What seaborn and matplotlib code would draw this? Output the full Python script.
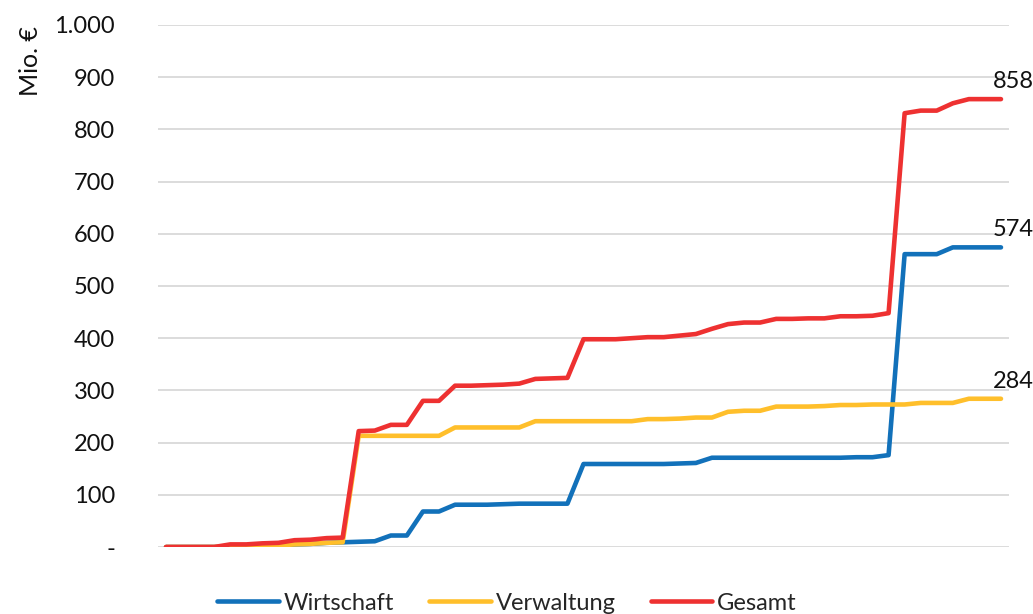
import numpy as np
import pandas as pd
import matplotlib
matplotlib.use("Agg")
import matplotlib.pyplot as plt
import seaborn as sns
from matplotlib.ticker import FixedLocator, FuncFormatter

# values (Mio. €), 53 periods
wirtschaft = [0, 0, 0, 0, 1, 1, 2, 3, 5, 6, 8, 9,
              10, 11, 22, 22, 68, 68, 81, 81, 81, 82, 83, 83, 83, 83,
              159, 159, 159, 159, 159, 159, 160, 161, 171, 171, 171, 171,
              171, 171, 171, 171, 171, 172, 172, 176,
              561, 561, 561, 574, 574, 574, 574]
verwaltung = [0, 0, 0, 0, 1, 1, 2, 3, 5, 6, 8, 9,
              213, 213, 213, 213, 213, 213, 229, 229, 229, 229, 229, 241, 241, 241,
              241, 241, 241, 241, 245, 245, 246, 248, 248, 259, 261, 261,
              269, 269, 269, 270, 272, 272, 273, 273,
              273, 276, 276, 276, 284, 284, 284]
gesamt = [0, 0, 0, 0, 5, 5, 7, 8, 13, 14, 17, 18,
          222, 223, 234, 234, 280, 280, 309, 309, 310, 311, 313, 322, 323, 324,
          398, 398, 398, 400, 402, 402, 405, 408, 418, 427, 430, 430,
          437, 437, 438, 438, 442, 442, 443, 448,
          831, 836, 836, 850, 858, 858, 858]

series_names = ["Wirtschaft", "Verwaltung", "Gesamt"]
colors = ["#1271BA", "#FFBF2B", "#EE3131"]
y_ticks = [0, 100, 200, 300, 400, 500, 600, 700, 800, 900, 1000]

periods = np.arange(len(gesamt))
df = pd.DataFrame({
    "period": np.tile(periods, 3),
    "value": wirtschaft + verwaltung + gesamt,
    "series": np.repeat(series_names, len(periods)),
})

sns.set_theme(style="white")
plt.rcParams["font.family"] = ["Lato", "DejaVu Sans"]
fs = 17

fig = plt.figure(figsize=(10.33, 6.14), dpi=100)
ax = fig.add_axes([158 / 1033, 1 - 547 / 614, (1009 - 158) / 1033, (547 - 25) / 614])

sns.lineplot(data=df, x="period", y="value", hue="series", hue_order=series_names,
             palette=colors, linewidth=3.3, ax=ax, legend=False, zorder=3)

ax.set_xlim(-0.5, len(periods) - 0.5)
ax.set_ylim(0, 1000)
ax.yaxis.set_major_locator(FixedLocator(y_ticks))
ax.yaxis.set_major_formatter(FuncFormatter(
    lambda v, p: "-" if v == 0 else f"{int(v):,}".replace(",", ".")))
ax.set_xticks([])
ax.grid(axis="y", color="#d9d9d9", linewidth=1.3)
ax.set_axisbelow(True)
for s in ax.spines.values():
    s.set_visible(False)
ax.tick_params(axis="y", length=0, pad=31, labelsize=fs, labelcolor="#111111")
ax.set_xlabel("")
ax.set_ylabel("")

fig.text(30 / 1033, 1 - 61 / 614, "Mio. €", rotation=90, ha="center", va="center",
         fontsize=18, color="#111111")

# end labels
last = len(periods) - 1
for vals in (gesamt, wirtschaft, verwaltung):
    ax.annotate(f"{vals[-1]}", (last, vals[-1]), xytext=(12, 7), textcoords="offset pixels",
                ha="center", va="bottom", fontsize=fs, color="#111111", annotation_clip=False)

handles = [plt.Line2D([], [], color=c, linewidth=3.3) for c in colors]
fig.legend(handles, series_names, loc="center", bbox_to_anchor=(507 / 1033, 1 - 603 / 614),
           ncol=3, frameon=False, fontsize=fs, handlelength=2.6, handletextpad=0.2,
           columnspacing=1.5)

fig.savefig("out.png", dpi=100)
